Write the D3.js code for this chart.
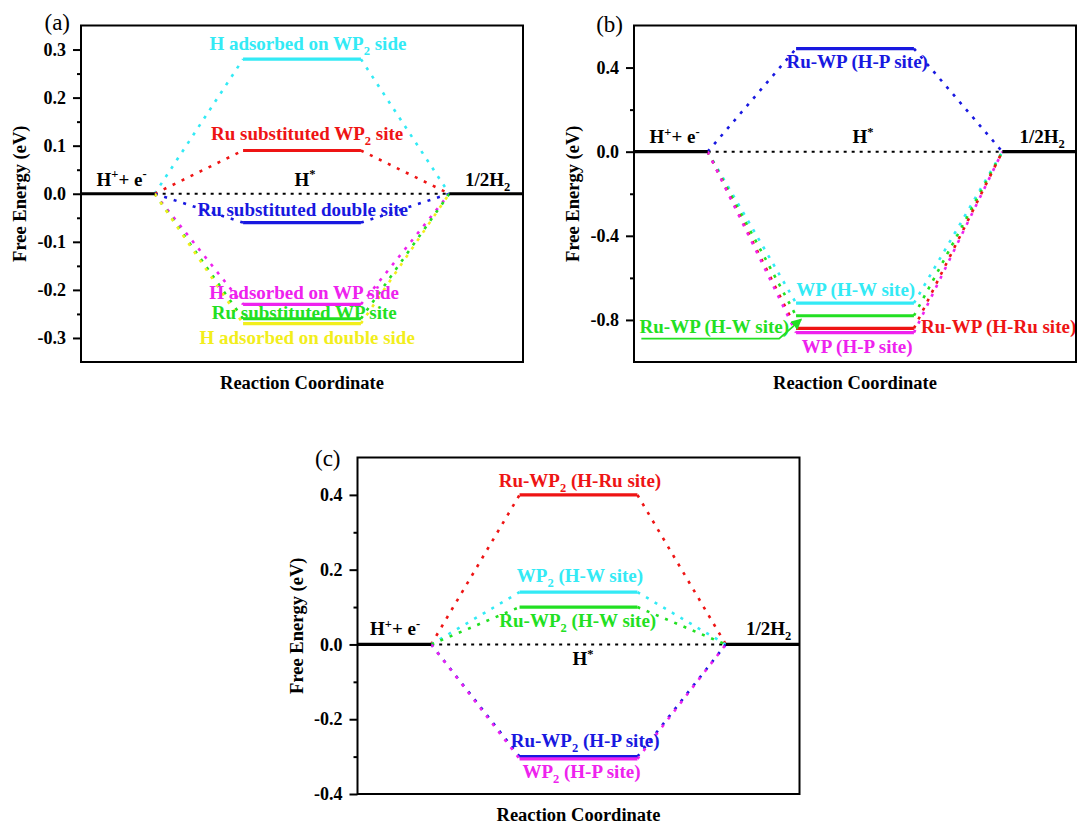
<!DOCTYPE html>
<html>
<head>
<meta charset="utf-8">
<script src="https://cdn.jsdelivr.net/npm/d3@7"></script>
<style>
  html, body { margin: 0; padding: 0; background: #ffffff; }
  svg { display: block; }
  text { font-family: "Liberation Serif", "Times New Roman", "DejaVu Serif", serif; }
</style>
</head>
<body>
<svg id="chart" width="1078" height="827"></svg>
<script>
// ---------------- DATA ----------------
// Reaction-coordinate positions of the three energy states
const stateInitial = [0, 1];     // H+ + e-
const stateAdsorbed = [2.2, 3.8]; // H*
const stateFinal = [5, 6];       // 1/2 H2
const stateInitialEnergy = 0;
const stateFinalEnergy = 0;

// Panel (a)
const aNames = ["H adsorbed on WP{_2} side", "Ru substituted WP{_2} site", "Ru substituted double site",
                "H adsorbed on WP side", "Ru substituted WP site", "H adsorbed on double side"];
const aValues = [0.28, 0.09, -0.06, -0.23, -0.26, -0.27];
const aTicks = [-0.3, -0.2, -0.1, 0.0, 0.1, 0.2, 0.3];
const aMinorTicks = [-0.25, -0.15, -0.05, 0.05, 0.15, 0.25];

// Panel (b)
const bNames = ["Ru-WP (H-P site)", "WP (H-W site)", "Ru-WP (H-W site)", "Ru-WP (H-Ru site)", "WP (H-P site)"];
const bValues = [0.49, -0.72, -0.78, -0.84, -0.86];
const bTicks = [-0.8, -0.4, 0.0, 0.4];
const bMinorTicks = [-0.6, -0.2, 0.2];

// Panel (c)
const cNames = ["Ru-WP{_2} (H-Ru site)", "WP{_2} (H-W site)", "Ru-WP{_2} (H-W site)",
                "Ru-WP{_2} (H-P site)", "WP{_2} (H-P site)"];
const cValues = [0.40, 0.14, 0.10, -0.30, -0.306];
const cTicks = [-0.4, -0.2, 0.0, 0.2, 0.4];
const cMinorTicks = [-0.3, -0.1, 0.1, 0.3];

const stateLabels = ["H{^+}+ e{^-}", "H{^*}", "1/2H{_2}"];
const yTitle = "Free Energy (eV)";
const xTitle = "Reaction Coordinate";

// ---------------- STYLE / LAYOUT ----------------
const COL = {
  red: "#ee1414", blue: "#1818e0", cyan: "#33eaf5", green: "#22e022",
  magenta: "#ee22ee", yellow: "#f2ee1c"
};
const aColors = [COL.cyan, COL.red, COL.blue, COL.magenta, COL.green, COL.yellow];
const bColors = [COL.blue, COL.cyan, COL.green, COL.red, COL.magenta];
const cColors = [COL.red, COL.cyan, COL.green, COL.blue, COL.magenta];

// label anchor positions (data units: reaction coordinate, energy)
const aLabelPos = [[3.08, 0.300], [3.07, 0.111], [3.01, -0.047], [3.03, -0.219], [3.03, -0.260], [3.07, -0.313]];
const bLabelPos = [[3.03, 0.400], [3.01, -0.688], [1.09, -0.862], [4.95, -0.860], [3.03, -0.957]];
const cLabelPos = [[3.02, 0.421], [3.02, 0.167], [2.99, 0.047], [3.09, -0.274], [3.04, -0.358]];
const aStatePos = [[0.55, 0.017], [3.04, 0.017], [5.52, 0.017]];
const bStatePos = [[0.55, 0.040], [3.11, 0.040], [5.54, 0.040]];
const cStatePos = [[0.51, 0.025], [3.06, -0.055], [5.58, 0.025]];
const bArrow = [[0.1, -0.889], [1.97, -0.889], [2.27, -0.797]];

const panels = [
  { tag: "(a)", left: 81, top: 25.5, domain: [-0.35, 0.35], ticks: aTicks, minor: aMinorTicks,
    names: aNames, values: aValues, colors: aColors, labelPos: aLabelPos, statePos: aStatePos,
    tagDx: -11, tagDy: 4.5 },
  { tag: "(b)", left: 634, top: 25.5, domain: [-1.0, 0.6], ticks: bTicks, minor: bMinorTicks,
    names: bNames, values: bValues, colors: bColors, labelPos: bLabelPos, statePos: bStatePos,
    tagDx: -11, tagDy: 6.5, arrow: bArrow, arrowColor: COL.green },
  { tag: "(c)", left: 357.5, top: 457.5, domain: [-0.4, 0.5], ticks: cTicks, minor: cMinorTicks,
    names: cNames, values: cValues, colors: cColors, labelPos: cLabelPos, statePos: cStatePos,
    tagDx: -17, tagDy: 8 }
];
const W = 442, H = 336.5;
const FS = 19;      // annotation labels
const FT = 18;      // tick labels
const FA = 18.5;    // axis titles
const FONT = "'Liberation Serif','Times New Roman','DejaVu Serif',serif";

const svg = d3.select("#chart");

svg.append("defs").append("marker")
  .attr("id", "arrowG").attr("viewBox", "0 0 10 10").attr("refX", 9).attr("refY", 5)
  .attr("markerWidth", 6).attr("markerHeight", 6).attr("orient", "auto")
  .append("path").attr("d", "M0,0 L10,5 L0,10 Z").attr("fill", COL.green);

function rich(textSel, str) {
  const parts = str.split(/(\{[_^][^}]*\})/).filter(s => s.length);
  let off = 0;
  parts.forEach(p => {
    const m = p.match(/^\{([_^])(.*)\}$/);
    if (m) {
      const d = m[1] === "_" ? 5 : -7.5;
      textSel.append("tspan").attr("dy", d - off).attr("font-size", "12.5px").text(m[2]);
      off = d;
    } else {
      textSel.append("tspan").attr("dy", -off).text(p);
      off = 0;
    }
  });
}

const fmt = v => (Math.abs(v) < 1e-9 ? 0 : v).toFixed(1);

panels.forEach(p => {
  const g = svg.append("g").attr("transform", `translate(${p.left},${p.top})`)
    .attr("font-family", FONT);
  const x = d3.scaleLinear().domain([stateInitial[0], stateFinal[1]]).range([0, W]);
  const y = d3.scaleLinear().domain(p.domain).range([H, 0]);

  // axes
  const ax = g.append("g").call(d3.axisLeft(y).tickValues(p.ticks).tickFormat(fmt).tickSize(8).tickPadding(7));
  ax.attr("font-family", FONT);
  ax.select(".domain").remove();
  ax.selectAll("line").attr("stroke-width", 2);
  ax.selectAll("text").attr("font-size", FT + "px").attr("font-weight", "bold")
    .attr("font-family", FONT).attr("fill", "#000");
  const mx = g.append("g").call(d3.axisLeft(y).tickValues(p.minor).tickFormat("").tickSize(4));
  mx.select(".domain").remove();
  mx.selectAll("line").attr("stroke-width", 2);

  // H* reference dotted line
  g.append("line")
    .attr("x1", x(stateInitial[1])).attr("x2", x(stateFinal[0]))
    .attr("y1", y(stateInitialEnergy)).attr("y2", y(stateFinalEnergy))
    .attr("stroke", "#000").attr("stroke-width", 2).attr("stroke-dasharray", "3,5");

  // connectors
  p.values.forEach((v, i) => {
    g.append("line")
      .attr("x1", x(stateInitial[1])).attr("y1", y(stateInitialEnergy))
      .attr("x2", x(stateAdsorbed[0])).attr("y2", y(v))
      .attr("stroke", p.colors[i]).attr("stroke-width", 2.6).attr("stroke-dasharray", "3,7");
    g.append("line")
      .attr("x1", x(stateAdsorbed[1])).attr("y1", y(v))
      .attr("x2", x(stateFinal[0])).attr("y2", y(stateFinalEnergy))
      .attr("stroke", p.colors[i]).attr("stroke-width", 2.6).attr("stroke-dasharray", "3,7");
  });

  // initial and final states
  g.append("line").attr("x1", x(stateInitial[0])).attr("x2", x(stateInitial[1]))
    .attr("y1", y(stateInitialEnergy)).attr("y2", y(stateInitialEnergy))
    .attr("stroke", "#000").attr("stroke-width", 3.2);
  g.append("line").attr("x1", x(stateFinal[0])).attr("x2", x(stateFinal[1]))
    .attr("y1", y(stateFinalEnergy)).attr("y2", y(stateFinalEnergy))
    .attr("stroke", "#000").attr("stroke-width", 3.2);

  // adsorbed levels
  p.values.forEach((v, i) => {
    g.append("line").attr("x1", x(stateAdsorbed[0])).attr("x2", x(stateAdsorbed[1]))
      .attr("y1", y(v)).attr("y2", y(v))
      .attr("stroke", p.colors[i]).attr("stroke-width", 3.2);
  });

  // arrow annotation
  if (p.arrow) {
    g.append("path")
      .attr("d", d3.line().x(d => x(d[0])).y(d => y(d[1]))(p.arrow))
      .attr("fill", "none").attr("stroke", p.arrowColor).attr("stroke-width", 1.8)
      .attr("marker-end", "url(#arrowG)");
  }

  // state labels
  stateLabels.forEach((s, i) => {
    const t = g.append("text").attr("x", x(p.statePos[i][0])).attr("y", y(p.statePos[i][1]))
      .attr("text-anchor", "middle").attr("font-size", FS + "px").attr("font-weight", "bold")
      .attr("fill", "#000");
    rich(t, s);
  });

  // series labels
  p.names.forEach((s, i) => {
    const t = g.append("text").attr("x", x(p.labelPos[i][0])).attr("y", y(p.labelPos[i][1]))
      .attr("text-anchor", "middle").attr("font-size", FS + "px").attr("font-weight", "bold")
      .attr("fill", p.colors[i]);
    rich(t, s);
  });

  // frame
  g.append("rect").attr("width", W).attr("height", H)
    .attr("fill", "none").attr("stroke", "#000").attr("stroke-width", 2);

  // titles
  g.append("text").attr("x", W / 2).attr("y", H + 27).attr("text-anchor", "middle")
    .attr("font-size", FA + "px").attr("font-weight", "bold").text(xTitle);
  g.append("text").attr("transform", `translate(-55,${H / 2}) rotate(-90)`).attr("text-anchor", "middle")
    .attr("font-size", FA + "px").attr("font-weight", "bold").text(yTitle);
  g.append("text").attr("x", p.tagDx).attr("y", p.tagDy).attr("text-anchor", "end")
    .attr("font-size", "23px").text(p.tag);
});
</script>
</body>
</html>
